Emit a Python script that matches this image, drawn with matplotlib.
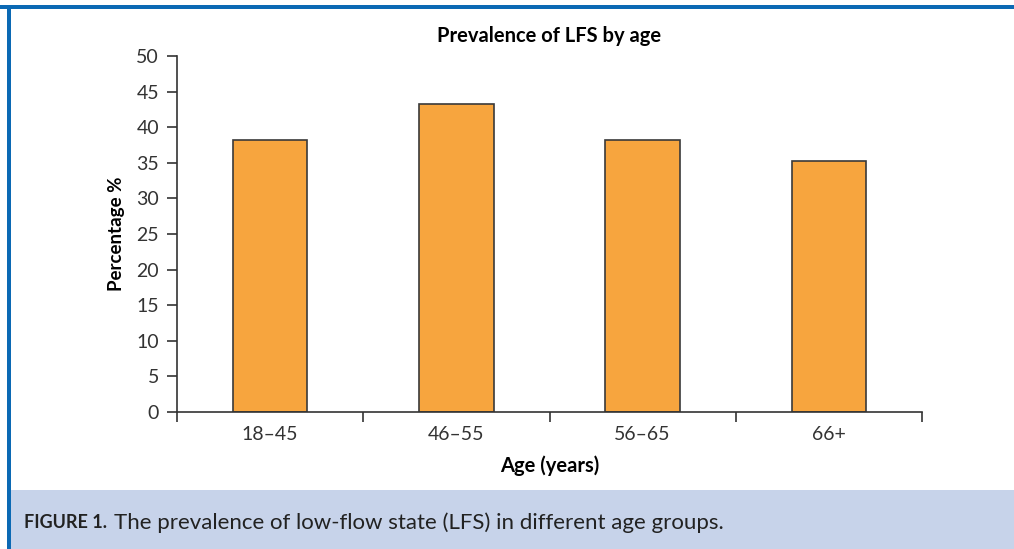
import matplotlib.pyplot as plt
from matplotlib.patches import Rectangle

# data
groups = ['18–45', '46–55', '56–65', '66+']
prevalence = [38.2, 43.2, 38.2, 35.3]
yticks = [0, 5, 10, 15, 20, 25, 30, 35, 40, 45, 50]

plt.rcParams['font.family'] = ['Lato', 'DejaVu Sans']

fig = plt.figure(figsize=(10.14, 5.49), dpi=100)

# caption band and frame
fig.patches.append(Rectangle((8 / 1014, 0), 1, 59 / 549, transform=fig.transFigure,
                             facecolor='#c7d3ea', edgecolor='none', zorder=0))
fig.patches.append(Rectangle((0, 1 - 9 / 549), 1, 4 / 549, transform=fig.transFigure,
                             facecolor='#0b69b4', edgecolor='none', zorder=1))
fig.patches.append(Rectangle((7 / 1014, 0), 4 / 1014, 1 - 5 / 549, transform=fig.transFigure,
                             facecolor='#0b69b4', edgecolor='none', zorder=1))

ax = fig.add_axes([177 / 1014, 1 - 412 / 549, 745 / 1014, 356 / 549])
x = range(len(groups))
ax.bar(x, prevalence, width=0.4, color='#f7a53e', edgecolor='#3a3a3a', linewidth=1.2)

ax.set_xlim(-0.5, 3.5)
ax.set_ylim(0, 50)
ax.set_yticks(yticks)
ax.set_xticks(list(x))
ax.set_xticklabels(groups)
ax.set_xticks([-0.5, 0.5, 1.5, 2.5, 3.5], minor=True)
ax.tick_params(axis='x', which='major', length=0, pad=10, labelsize=14, labelcolor='#333333')
ax.tick_params(axis='x', which='minor', length=7, width=1.2, direction='out', color='#333333')
ax.tick_params(axis='y', length=7, width=1.2, direction='out', pad=6, labelsize=14,
               labelcolor='#333333', color='#333333')

for s in ['top', 'right']:
    ax.spines[s].set_visible(False)
for s in ['left', 'bottom']:
    ax.spines[s].set_color('#333333')
    ax.spines[s].set_linewidth(1.2)

ax.set_title('Prevalence of LFS by age', fontsize=14.5, fontweight='bold', pad=10)
ax.set_ylabel('Percentage %', fontsize=13.5, fontweight='bold', labelpad=8)
ax.set_xlabel('Age (years)', fontsize=14.5, fontweight='bold', labelpad=9)

# caption: bold label, then the sentence right after it
lab = fig.text(24 / 1014, 1 - 523 / 549, 'FIGURE 1.', fontsize=13, fontweight='bold',
               color='#222222', va='center')
fig.canvas.draw()
ext = lab.get_window_extent()
fig.text((ext.x1 + 7) / 1014, 1 - 523 / 549,
         'The prevalence of low-flow state (LFS) in different age groups.',
         fontsize=16, color='#222222', va='center')

fig.savefig('out.png', dpi=100)
